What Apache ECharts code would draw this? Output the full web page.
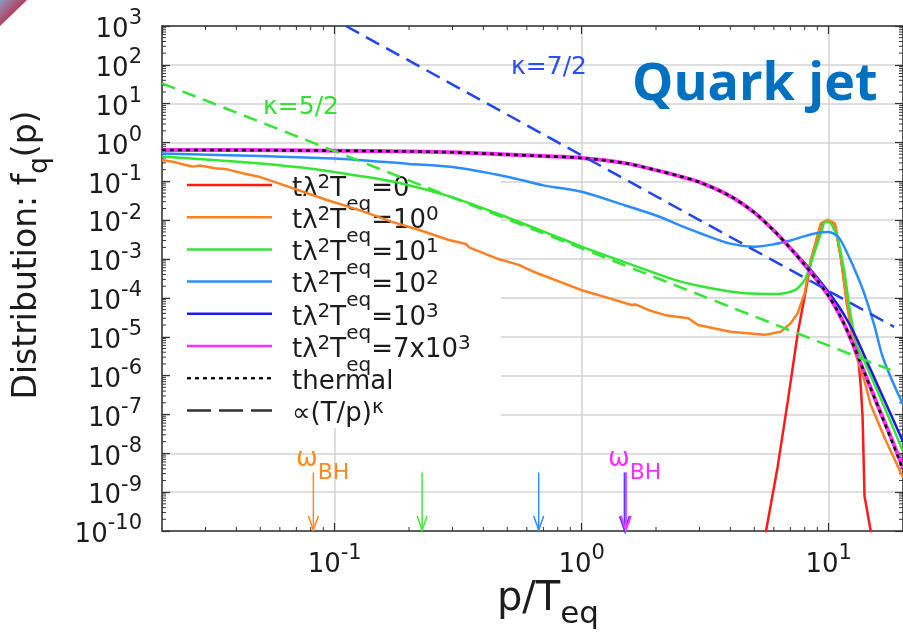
<!DOCTYPE html>
<html lang="en">
<head>
<meta charset="UTF-8">
<title>Quark jet distribution</title>
<script src="https://cdn.jsdelivr.net/npm/echarts@6.0.0/dist/echarts.min.js"></script>
<style>
  html, body { margin: 0; padding: 0; background: #fff; overflow: hidden; }
  #chart { width: 903px; height: 642px; }
</style>
</head>
<body>
<div id="chart"></div>
<script>
// values: x = p/T_eq, y = f_q(p)
var seriesNames = ['t0', 't1', 't10', 't100', 't1000', 't7000', 'thermal', 'powerlaw'];
var legendLabels = [
  '{b|t\u03bb}{sup|2}{b|T}{sub|eq}{b|=0}',
  '{b|t\u03bb}{sup|2}{b|T}{sub|eq}{b|=10}{sup|0}',
  '{b|t\u03bb}{sup|2}{b|T}{sub|eq}{b|=10}{sup|1}',
  '{b|t\u03bb}{sup|2}{b|T}{sub|eq}{b|=10}{sup|2}',
  '{b|t\u03bb}{sup|2}{b|T}{sub|eq}{b|=10}{sup|3}',
  '{b|t\u03bb}{sup|2}{b|T}{sub|eq}{b|=7x10}{sup|3}',
  '{b|thermal}',
  '{b|\u221d(T/p)}{sup|\u03ba}'
];
var seriesColors = ['#ff1a1a', '#ff8020', '#33e633', '#2b8cff', '#1a1ae6', '#ff2bff', '#111111', '#333333'];
var seriesDash = ['solid', 'solid', 'solid', 'solid', 'solid', 'solid', [4, 4], [24, 8]];

var redX = [5.4, 6.22, 6.84, 7.5, 8.0, 8.46, 9.3, 9.9, 10.6, 11.2, 11.9, 12.7, 13.1, 13.5, 13.72, 13.97, 14.8, 15.5];
var redY = [3.2e-11, 4.6e-9, 2.3e-7, 1.26e-5, 1.12e-4, 7.9e-4, 7.6e-3, 1.0e-2, 7.9e-3, 1.12e-3, 6.3e-5, 1.12e-5, 4.6e-6, 5.0e-7, 8.7e-8, 7.9e-10, 1.0e-10, 2.5e-11];

var orangeX = [0.02, 0.0227, 0.0249, 0.0268, 0.0285, 0.0327, 0.0367, 0.0433, 0.05, 0.068, 0.093, 0.126, 0.171, 0.22, 0.29, 0.34, 0.35, 0.46, 0.557, 0.63, 0.67, 1, 1.28, 1.59, 1.65, 1.86, 2.18, 2.7, 2.96, 4.0, 5.5, 6.4, 7.03, 7.5, 8.0, 8.46, 9.3, 9.9, 10.6, 11.2, 11.9, 12.7, 14.0, 14.8, 17.0, 20];
var orangeY = [0.355, 0.309, 0.263, 0.240, 0.257, 0.219, 0.204, 0.158, 0.129, 0.066, 0.0331, 0.0182, 9.1e-3, 5.6e-3, 3.1e-3, 2.45e-3, 2.0e-3, 1.0e-3, 7.1e-4, 4.9e-4, 4.2e-4, 1.58e-4, 1.0e-4, 6.6e-5, 6.8e-5, 4.9e-5, 3.6e-5, 3.0e-5, 2.0e-5, 1.35e-5, 1.12e-5, 1.35e-5, 2.24e-5, 4.1e-5, 1.35e-4, 9.5e-4, 8.3e-3, 1.02e-2, 8.3e-3, 1.15e-3, 6.0e-5, 4.6e-6, 6.9e-7, 1.78e-7, 2.2e-8, 2.4e-9];

var greenX = [0.02, 0.031, 0.05, 0.079, 0.126, 0.183, 0.29, 0.46, 0.74, 1, 1.6, 2.46, 3.34, 4.58, 6.2, 7.3, 8.0, 8.46, 9.3, 9.7, 10.2, 10.9, 11.6, 12.3, 13.1, 14, 16, 18, 20];
var greenY = [0.437, 0.363, 0.288, 0.214, 0.138, 0.0912, 0.0417, 0.0145, 4.47e-3, 2.09e-3, 7.1e-4, 2.75e-4, 1.78e-4, 1.32e-4, 1.26e-4, 1.58e-4, 2.9e-4, 7.8e-4, 4.6e-3, 9.1e-3, 8.3e-3, 3.1e-3, 4.3e-4, 3.3e-5, 5.6e-6, 2.2e-6, 3.2e-7, 5.6e-8, 1.1e-8];

var lightX = [0.02, 0.05, 0.1, 0.2, 0.3, 0.5, 0.7, 1, 1.5, 2, 2.5, 3, 4, 5, 6, 7, 8, 9, 10, 11, 12, 13, 14, 15.3, 16.5, 18, 20];
var lightY = [0.525, 0.447, 0.389, 0.282, 0.234, 0.132, 0.079, 0.054, 0.024, 0.0132, 7.4e-3, 4.7e-3, 2.5e-3, 2.09e-3, 2.4e-3, 3.0e-3, 3.9e-3, 4.7e-3, 5.0e-3, 3.55e-3, 1.26e-3, 4.0e-4, 1.2e-4, 2.0e-5, 3.2e-6, 7.9e-7, 1.78e-7];

var darkX = [0.02, 0.04, 0.1, 0.2, 0.3, 0.5, 0.7, 1, 1.5, 2, 2.5, 3, 4, 5, 6, 7, 8, 9, 10, 11, 12, 13, 14.8, 17, 20];
var darkY = [0.646, 0.638, 0.617, 0.589, 0.562, 0.490, 0.447, 0.40, 0.295, 0.195, 0.135, 0.0955, 0.0417, 0.0158, 5.4e-3, 1.95e-3, 7.9e-4, 3.3e-4, 1.41e-4, 6.0e-5, 2.4e-5, 8.9e-6, 1.41e-6, 2.0e-7, 2.0e-8];

var magentaX = [0.02, 0.04, 0.1, 0.2, 0.3, 0.5, 0.7, 1, 1.5, 2, 2.5, 3, 4, 5, 6, 7, 8, 9, 10, 11, 12, 14, 16, 18, 20];
var magentaY = [0.646, 0.638, 0.617, 0.589, 0.562, 0.490, 0.447, 0.40, 0.295, 0.195, 0.135, 0.0955, 0.0417, 0.0158, 5.4e-3, 1.9e-3, 7.1e-4, 2.8e-4, 1.12e-4, 4.0e-5, 1.26e-5, 1.15e-6, 1.4e-7, 2.3e-8, 4.3e-9];

var thermalX = [0.02, 0.04, 0.1, 0.2, 0.3, 0.5, 0.7, 1, 1.5, 2, 2.5, 3, 4, 5, 6, 7, 8, 9, 10, 11, 12, 14, 16, 18, 20];
var thermalY = [0.646, 0.638, 0.617, 0.589, 0.562, 0.490, 0.447, 0.40, 0.295, 0.195, 0.135, 0.0955, 0.0417, 0.0158, 5.4e-3, 1.9e-3, 7.1e-4, 2.8e-4, 1.12e-4, 4.0e-5, 1.26e-5, 1.15e-6, 1.35e-7, 2.1e-8, 3.8e-9];

// power-law guides (straight in log-log, so two ends are enough)
var kappa52X = [0.02, 17.8];
var kappa52Y = [33.5, 1.4e-6];
var kappa72X = [0.111, 18.4];
var kappa72Y = [1000, 1.8e-5];

// omega_BH arrows at the bottom
var arrowX = [0.082, 0.226, 0.67, 1.5, 1.51];
var arrowTop = 3.2e-9;
var arrowTip = 1e-10;
var arrowColors = ['#ff8a1e', '#3ee83e', '#2f8fff', '#4a3cff', '#ff3cff'];
var arrowWidths = [1.5, 1.5, 1.5, 3, 1.8];

// ticks
var xTickValues = [0.1, 1, 10];
var xTickPowers = ['-1', '0', '1'];
var yTickPowers = ['-10', '-9', '-8', '-7', '-6', '-5', '-4', '-3', '-2', '-1', '0', '1', '2', '3'];
var minorSteps = [2, 3, 4, 5, 6, 7, 8, 9];

var X_MIN = 0.02, X_MAX = 20, Y_MIN = 1e-10, Y_MAX = 1e3;
var FONT = 'DejaVu Sans';
var INK = '#1c1c1c';

function zip(xs, ys) {
  return xs.map(function (x, i) { return [x, ys[i]]; });
}

var xMinor = [];
[0.01, 0.1, 1].forEach(function (d) {
  minorSteps.forEach(function (s) {
    var v = d * s;
    if (v > X_MIN * 1.01 && v < X_MAX * 0.99) xMinor.push([v, 1]);
  });
});
var yMinor = [];
for (var e = -10; e < 3; e++) {
  minorSteps.forEach(function (s) { yMinor.push([1, s * Math.pow(10, e)]); });
}

var axisRich = {
  b: { fontFamily: FONT, fontSize: 26, height: 26, padding: [9, 0, 0, 0], verticalAlign: 'top', color: INK },
  s: { fontFamily: FONT, fontSize: 21, height: 21, verticalAlign: 'top', color: INK }
};
var legendRich = {
  b: { fontFamily: FONT, fontSize: 26, height: 26, padding: [20.5, 0, 12.5, 0], verticalAlign: 'top', fill: INK, color: INK },
  sup: { fontFamily: FONT, fontSize: 20, height: 20, padding: [17, 0, 0, 0], verticalAlign: 'top', fill: INK, color: INK },
  sub: { fontFamily: FONT, fontSize: 20, height: 20, padding: [39, 0, 0, 0], verticalAlign: 'top', fill: INK, color: INK }
};

function xLabel(v) {
  for (var i = 0; i < xTickValues.length; i++) {
    if (Math.abs(v / xTickValues[i] - 1) < 1e-6) return '{b|10}{s|' + xTickPowers[i] + '}';
  }
  return '';
}
function yLabel(v) {
  var p = Math.round(Math.log10(v));
  var label = yTickPowers[p + 10];
  return label === undefined ? '' : '{b|10}{s|' + label + '}';
}

function lineSeries(name, xs, ys, color, width, extra) {
  var s = {
    name: name, type: 'line', data: zip(xs, ys), symbol: 'none', clip: true,
    lineStyle: { color: color, width: width }, itemStyle: { color: color }
  };
  for (var k in extra) s[k] = extra[k];
  return s;
}

function arrowItem(params, api) {
  var i = params.dataIndex;
  var top = api.coord([api.value(0), api.value(1)]);
  var tip = api.coord([api.value(0), api.value(2)]);
  var c = arrowColors[i], w = arrowWidths[i];
  return {
    type: 'group', children: [
      { type: 'line', shape: { x1: top[0], y1: top[1], x2: tip[0], y2: tip[1] }, style: { stroke: c, lineWidth: w } },
      { type: 'polyline', shape: { points: [[tip[0] - 5, tip[1] - 15], [tip[0], tip[1] - 1], [tip[0] + 5, tip[1] - 15]] },
        style: { stroke: c, lineWidth: w, fill: null } }
    ]
  };
}
function minorXItem(params, api) {
  var b = api.coord([api.value(0), Y_MIN]);
  var t = api.coord([api.value(0), Y_MAX]);
  return {
    type: 'group', children: [
      { type: 'line', shape: { x1: b[0], y1: b[1], x2: b[0], y2: b[1] - 4 }, style: { stroke: '#333', lineWidth: 1 } },
      { type: 'line', shape: { x1: t[0], y1: t[1], x2: t[0], y2: t[1] + 4 }, style: { stroke: '#333', lineWidth: 1 } }
    ]
  };
}
function minorYItem(params, api) {
  var l = api.coord([X_MIN, api.value(1)]);
  var r = api.coord([X_MAX, api.value(1)]);
  return {
    type: 'group', children: [
      { type: 'line', shape: { x1: l[0], y1: l[1], x2: l[0] + 4, y2: l[1] }, style: { stroke: '#333', lineWidth: 1 } },
      { type: 'line', shape: { x1: r[0], y1: r[1], x2: r[0] - 4, y2: r[1] }, style: { stroke: '#333', lineWidth: 1 } }
    ]
  };
}

// key box drawn by hand so the super/subscripts sit like the original
var keyTop = 185, keyStep = 32.2;
var keyElements = [];
seriesNames.forEach(function (n, i) {
  var y = keyTop + i * keyStep;
  keyElements.push({ type: 'line', z: 1.5, silent: true,
    shape: { x1: 187, y1: y, x2: 272, y2: y },
    style: { stroke: seriesColors[i], lineWidth: 2.5, lineDash: seriesDash[i] === 'solid' ? null : seriesDash[i] } });
  keyElements.push({ type: 'text', z: 1.5, silent: true, x: 292, y: y - 29.5,
    style: { text: legendLabels[i], fill: INK, align: 'left', textAlign: 'left', verticalAlign: 'top', textVerticalAlign: 'top', rich: legendRich } });
});

var axisLine = { show: true, onZero: false, lineStyle: { color: '#333', width: 1.5 } };
var majorTick = { show: true, inside: true, length: 8, lineStyle: { color: '#333', width: 1.2 } };
var grid = { color: '#d3d3d3', width: 1.5 };

var chart = echarts.init(document.getElementById('chart'));
chart.setOption({
  animation: false,
  backgroundColor: '#fff',
  grid: { left: 162, right: -3, top: 26, bottom: 111 },
  xAxis: [
    { type: 'log', logBase: 10, min: X_MIN, max: X_MAX, position: 'bottom', axisLine: axisLine, axisTick: majorTick,
      axisLabel: { formatter: xLabel, margin: 12, rich: axisRich, showMinLabel: false, showMaxLabel: false },
      splitLine: { show: true, lineStyle: grid } },
    { type: 'log', logBase: 10, min: X_MIN, max: X_MAX, position: 'top', axisLine: axisLine, axisTick: majorTick,
      axisLabel: { show: false }, splitLine: { show: false } }
  ],
  yAxis: [
    { type: 'log', logBase: 10, min: Y_MIN, max: Y_MAX, interval: 1, position: 'left', axisLine: axisLine, axisTick: majorTick,
      axisLabel: { formatter: yLabel, margin: 20, rich: axisRich },
      splitLine: { show: true, lineStyle: grid } },
    { type: 'log', logBase: 10, min: Y_MIN, max: Y_MAX, interval: 1, position: 'right', axisLine: axisLine, axisTick: majorTick,
      axisLabel: { show: false }, splitLine: { show: false } }
  ],
  graphic: { elements: [
    { type: 'rect', shape: { x: 170, y: 163, width: 331, height: 265 }, style: { fill: '#fff' }, z: 1, silent: true },
    { type: 'polygon', shape: { points: [[0, 0], [27, 0], [0, 26]] }, z: 10, silent: true,
      style: { fill: new echarts.graphic.LinearGradient(0, 0, 1, 1, [
        { offset: 0, color: '#8f9ac8' }, { offset: 0.5, color: '#b0405a' }, { offset: 1, color: '#7a1f35' }]) } },
    { type: 'text', x: 632, y: 85, z: 6, silent: true,
      style: { text: 'Quark jet', fontFamily: 'Open Sans', fontWeight: 'bold', fontSize: 52, fill: '#0070c0',
        align: 'left', textAlign: 'left', verticalAlign: 'middle', textVerticalAlign: 'middle' } },
    { type: 'text', x: 301, y: 107, z: 6, silent: true,
      style: { text: '\u03ba=5/2', fontFamily: FONT, fontSize: 25, fill: '#33e033',
        align: 'center', textAlign: 'center', verticalAlign: 'middle', textVerticalAlign: 'middle' } },
    { type: 'text', x: 549, y: 67, z: 6, silent: true,
      style: { text: '\u03ba=7/2', fontFamily: FONT, fontSize: 25, fill: '#2b4ff2',
        align: 'center', textAlign: 'center', verticalAlign: 'middle', textVerticalAlign: 'middle' } },
    { type: 'text', x: 296, y: 446, z: 6, silent: true,
      style: { text: '{w|\u03c9}{s|BH}', fill: '#ff8a1e', verticalAlign: 'top', textVerticalAlign: 'top',
        rich: { w: { fontFamily: FONT, fontSize: 26, height: 26, verticalAlign: 'top', fill: '#ff8a1e', color: '#ff8a1e' },
                s: { fontFamily: FONT, fontSize: 22, height: 22, padding: [16, 0, 0, 0], verticalAlign: 'top', fill: '#ff8a1e', color: '#ff8a1e' } } } },
    { type: 'text', x: 608, y: 446, z: 6, silent: true,
      style: { text: '{w|\u03c9}{s|BH}', fill: '#ff30ff', verticalAlign: 'top', textVerticalAlign: 'top',
        rich: { w: { fontFamily: FONT, fontSize: 26, height: 26, verticalAlign: 'top', fill: '#ff30ff', color: '#ff30ff' },
                s: { fontFamily: FONT, fontSize: 22, height: 22, padding: [16, 0, 0, 0], verticalAlign: 'top', fill: '#ff30ff', color: '#ff30ff' } } } },
    { type: 'text', x: 32, y: 255, rotation: Math.PI / 2, z: 6, silent: true,
      style: { text: '{b|Distribution: f}{q|q}{b|(p)}', fill: INK,
        align: 'center', textAlign: 'center', verticalAlign: 'middle', textVerticalAlign: 'middle',
        rich: { b: { fontFamily: FONT, fontSize: 33, height: 33, verticalAlign: 'top', fill: INK, color: INK },
                q: { fontFamily: FONT, fontSize: 26, height: 26, padding: [16, 0, 0, 0], verticalAlign: 'top', fill: INK, color: INK } } } },
    { type: 'text', x: 548, y: 605, z: 6, silent: true,
      style: { text: '{b|p/T}{q|eq}', fill: INK,
        align: 'center', textAlign: 'center', verticalAlign: 'middle', textVerticalAlign: 'middle',
        rich: { b: { fontFamily: FONT, fontSize: 40, height: 40, verticalAlign: 'top', fill: INK, color: INK },
                q: { fontFamily: FONT, fontSize: 31, height: 31, padding: [19, 0, 0, 0], verticalAlign: 'top', fill: INK, color: INK } } } }
  ].concat(keyElements) },
  series: [
    lineSeries(seriesNames[0], redX, redY, seriesColors[0], 2.5, {}),
    lineSeries(seriesNames[1], orangeX, orangeY, seriesColors[1], 2.5, {}),
    lineSeries(seriesNames[2], greenX, greenY, seriesColors[2], 2.5, { smooth: 0.25 }),
    lineSeries(seriesNames[3], lightX, lightY, seriesColors[3], 2.5, { smooth: 0.3 }),
    lineSeries(seriesNames[4], darkX, darkY, seriesColors[4], 2.5, { smooth: 0.3 }),
    lineSeries(seriesNames[5], magentaX, magentaY, seriesColors[5], 4, { smooth: 0.3 }),
    lineSeries(seriesNames[6], thermalX, thermalY, seriesColors[6], 2.6, { smooth: 0.3, lineStyle: { color: seriesColors[6], width: 2.6, type: [4, 4] } }),
    lineSeries('kappa52', kappa52X, kappa52Y, '#33e633', 2.5, { lineStyle: { color: '#33e633', width: 2.5, type: [14, 8] } }),
    lineSeries('kappa72', kappa72X, kappa72Y, '#2046f0', 2.5, { lineStyle: { color: '#2046f0', width: 2.5, type: [15, 8] } }),
    { name: 'arrows', type: 'custom', silent: true, z: 3, clip: false,
      data: arrowX.map(function (x) { return [x, arrowTop, arrowTip]; }), renderItem: arrowItem },
    { name: 'minorX', type: 'custom', silent: true, z: 3, clip: false, data: xMinor, renderItem: minorXItem },
    { name: 'minorY', type: 'custom', silent: true, z: 3, clip: false, data: yMinor, renderItem: minorYItem }
  ]
});
</script>
</body>
</html>
